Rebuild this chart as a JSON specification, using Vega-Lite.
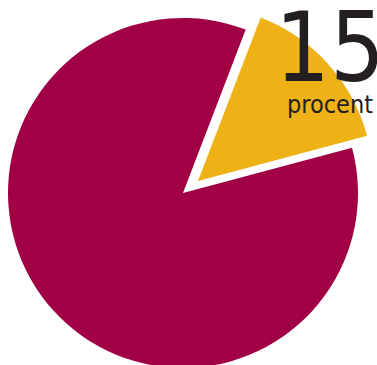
{
  "$schema": "https://vega.github.io/schema/vega-lite/v6.json",
  "width": 366,
  "height": 344,
  "autosize": {"type": "none"},
  "padding": {"left": 0, "top": 21, "right": 11, "bottom": 0},
  "background": "white",
  "config": {"view": {"stroke": null}},
  "data": {"values": [
    {"cat": "rest", "start": 15, "end": 100},
    {"cat": "share", "start": 0, "end": 15}
  ]},
  "layer": [
    {
      "transform": [{"filter": "datum.cat === 'rest'"}],
      "mark": {"type": "arc", "outerRadius": 175},
      "encoding": {
        "theta": {"field": "start", "type": "quantitative", "scale": {"domain": [0, 100], "range": [0.3665, 6.6497]}},
        "theta2": {"field": "end"},
        "color": {"field": "cat", "type": "nominal", "scale": {"domain": ["rest", "share"], "range": ["#a10044", "#eeb116"]}, "legend": null}
      }
    },
    {
      "transform": [{"filter": "datum.cat === 'share'"}],
      "mark": {"type": "arc", "outerRadius": 175, "xOffset": 15, "yOffset": -12},
      "encoding": {
        "theta": {"field": "start", "type": "quantitative", "scale": {"domain": [0, 100], "range": [0.3665, 6.6497]}},
        "theta2": {"field": "end"},
        "color": {"field": "cat", "type": "nominal", "scale": {"domain": ["rest", "share"], "range": ["#a10044", "#eeb116"]}, "legend": null}
      }
    },
    {
      "data": {"values": [{"label": "15"}]},
      "mark": {"type": "text", "x": 275, "y": 60, "align": "left", "baseline": "alphabetic", "font": "DejaVu Sans Condensed", "fontSize": 96, "color": "#231f20"},
      "encoding": {"text": {"field": "label"}}
    },
    {
      "data": {"values": [{"label": "procent"}]},
      "mark": {"type": "text", "x": 373, "y": 92, "align": "right", "baseline": "alphabetic", "font": "DejaVu Sans Condensed", "fontSize": 25, "color": "#231f20"},
      "encoding": {"text": {"field": "label"}}
    }
  ]
}
